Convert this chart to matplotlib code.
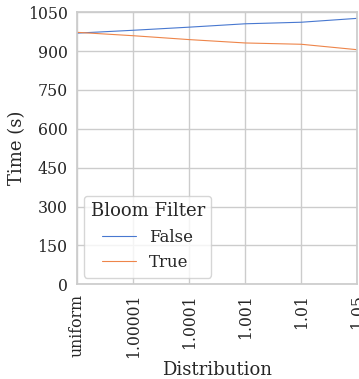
import matplotlib
matplotlib.use("Agg")
import matplotlib.pyplot as plt
import seaborn as sns
import pandas as pd

# Values
distributions = ["uniform", "1.00001", "1.0001", "1.001", "1.01", "1.05"]
time_false = [969, 980, 992, 1005, 1011, 1026]
time_true = [972, 959, 944, 931, 926, 905]

df = pd.DataFrame({
    "Distribution": distributions * 2,
    "Time (s)": time_false + time_true,
    "Bloom Filter": ["False"] * len(distributions) + ["True"] * len(distributions),
})

sns.set_theme(style="whitegrid", palette="muted")
plt.rcParams['font.family'] = ['DejaVu Serif']

fig, ax = plt.subplots(figsize=(3.59, 3.79), dpi=100)
sns.lineplot(data=df, x="Distribution", y="Time (s)", hue="Bloom Filter",
             sort=False, linewidth=0.8, ax=ax)

ax.set_ylim(0, 1050)
ax.set_yticks(range(0, 1051, 150))
ax.set_xlim(0, len(distributions) - 1)
ax.tick_params(axis='both', labelsize=11.3, pad=1)
plt.setp(ax.get_xticklabels(), rotation=90)
ax.set_xlabel("Distribution", fontsize=13, labelpad=2)
ax.set_ylabel("Time (s)", fontsize=13, labelpad=1)
leg = ax.legend(title="Bloom Filter", loc="lower left", fontsize=12, title_fontsize=13,
                borderaxespad=0.4)

fig.subplots_adjust(left=0.215, right=0.995, top=0.968, bottom=0.25)
fig.savefig("out.png", dpi=100)
